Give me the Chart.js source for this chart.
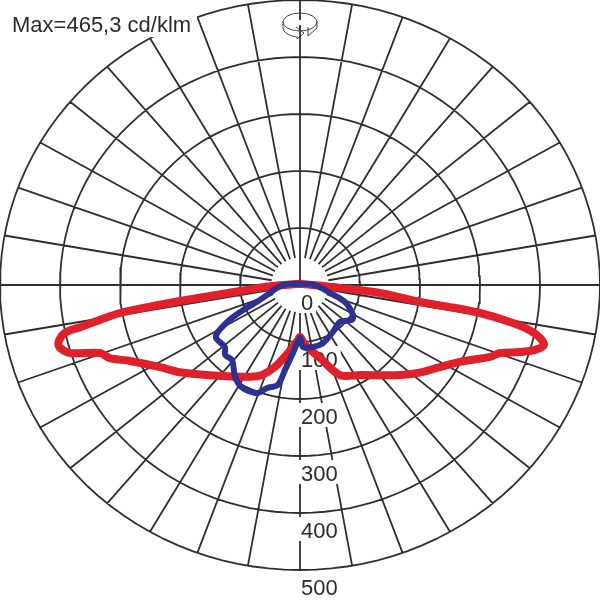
<!DOCTYPE html>
<html>
<head>
<meta charset="utf-8">
<title>Polar</title>
<script src="https://cdn.jsdelivr.net/npm/chart.js@4"></script>
<style>
body{margin:0;background:#fff;}
canvas{display:block;}
</style>
</head>
<body>
<canvas id="polar" width="600" height="600"></canvas>
<script>
//data (angle from straight down, cd/klm)
const ringValues = [100,200,300,400,500];
const tickLabels = ['0','100','200','300','400','500'];
const spokeAngles = [0,10,20,30,40,50,60,70,80,90,100,110,120,130,140,150,160,170,180,190,200,210,220,230,240,250,260,270,280,290,300,310,320,330,340,350];
const titleText = 'Max=465,3 cd/klm';

const redAngles = [180,-87.9,-84,-82.7,-82,-81.4,-80.7,-79.6,-78.6,-77.9,-76,-74.6,-72.7,-70.3,-68,-64.8,-58.3,-52.6,-43.5,-27.3,-21.8,-16.3,-9.5,-2,0,4.5,14.5,23,32.3,46.6,52.4,58.3,63.2,68.3,70.3,72.2,73.8,75.5,76.9,78.3,79.5,80.7,81.2,81.5,84,85.7,180];
const redValues = [2,46.7,100.6,151,202,253,304,339,374,401,415,415,401,354,342,313,274,252,218,181,170,150,121,97,91,105,132,172,187,230,252,274,299,341,354,385,408,420,411,391,356,304,253,202,134,67,2];

const blueAngles = [180,-94.6,-82.5,-74.4,-68,-65,-62.5,-58.9,-56.4,-48.9,-45.5,-40.6,-33.9,-28.4,-20.8,-16.9,-11.9,-9.5,-5.6,0,2.6,11.3,20.4,33.7,45.9,54.9,59.1,68.2,74.4,84,95.9,180];
const blueValues = [2,22,38.7,52,75,105,132,160,168,166,175,174,194,204,203,189,179,151,120,93,109,111,109,99,93,106,103,81,52,33,17,2];

const holeRadius = 48;

function toPoint(angle,value){
    const a = angle*Math.PI/180;
    return {x:value*Math.sin(a),y:-value*Math.cos(a)};
}
function curve(angles,values){
    return angles.map((a,i)=>toPoint(a,values[i]));
}

//rings and spokes go in one dataset, null points break the line
function gridPoints(){
    const pts = [];
    ringValues.forEach(r=>{
        for(let a=0;a<=360;a+=3){
            pts.push(toPoint(a,r));
        }
        pts.push({x:null,y:null});
    });
    spokeAngles.forEach(a=>{
        //the upper half of the cross runs right into the centre
        const start = (a===90 || a===180 || a===270) ? 0 : holeRadius;
        pts.push(toPoint(a,start));
        pts.push(toPoint(a,500));
        pts.push({x:null,y:null});
    });
    return pts;
}

function drawIcon(ctx,cx){
    ctx.save();
    ctx.strokeStyle = '#444';
    ctx.lineWidth = 1;
    ctx.fillStyle = '#fff';
    //white band that hides the axis behind the ribbon
    ctx.fillRect(cx-6,20,12,5);
    ctx.beginPath();
    ctx.ellipse(cx,22,17,9,0,0,Math.PI*2);
    ctx.stroke();
    ctx.beginPath();
    ctx.moveTo(cx-17,22);
    ctx.lineTo(cx-17,28);
    ctx.ellipse(cx,28,17,9,0,Math.PI,Math.PI*0.58,true);
    ctx.stroke();
    ctx.beginPath();
    ctx.moveTo(cx+17,22);
    ctx.lineTo(cx+17,28);
    ctx.lineTo(cx+8,36);
    ctx.lineTo(cx+8,27);
    ctx.stroke();
    //arrow head
    ctx.beginPath();
    ctx.moveTo(cx-4,27);
    ctx.lineTo(cx+4,33);
    ctx.lineTo(cx-3,39);
    ctx.lineTo(cx-3,36);
    ctx.stroke();
    ctx.restore();
}

//labels sit over the grid but under the curves, so this runs right after the grid dataset
const labelPlugin = {
    id:'labelPlugin',
    afterDatasetDraw(chart,args){
        if(args.index !== 2) return;
        const ctx = chart.ctx;
        const xs = chart.scales.x, ys = chart.scales.y;
        const x0 = xs.getPixelForValue(0);
        ctx.save();
        ctx.font = '22px "Liberation Sans"';
        ctx.textBaseline = 'alphabetic';
        tickLabels.forEach(t=>{
            const y = ys.getPixelForValue(-Number(t));
            const w = ctx.measureText(t).width;
            ctx.fillStyle = '#fff';
            ctx.fillRect(x0-1,y+4,w+5,24);
            ctx.fillStyle = '#2b2b2b';
            ctx.fillText(t,x0+1,y+25);
        });
        ctx.fillStyle = '#fff';
        ctx.fillRect(0,0,197,37);
        ctx.fillStyle = '#2b2b2b';
        ctx.fillText(titleText,12,32);
        ctx.restore();
        drawIcon(ctx,x0);
    }
};

var chart = new Chart(document.getElementById('polar').getContext('2d'),{
    type:'scatter',
    data:{
        datasets:[
            {
                label:'C90-C270',
                data:curve(blueAngles,blueValues),
                showLine:true,
                borderColor:'#2e3192',
                borderWidth:6,
                tension:0.3,
                pointRadius:0,
                borderJoinStyle:'round',
                borderCapStyle:'round'
            },
            {
                label:'C0-C180',
                data:curve(redAngles,redValues),
                showLine:true,
                borderColor:'#e0202a',
                borderWidth:8,
                tension:0.3,
                pointRadius:0,
                borderJoinStyle:'round',
                borderCapStyle:'round'
            },
            {
                label:'grid',
                data:gridPoints(),
                showLine:true,
                borderColor:'#2f2f2f',
                borderWidth:1.8,
                pointRadius:0,
                spanGaps:false,
                clip:false
            }
        ]
    },
    options:{
        responsive:false,
        animation:false,
        layout:{padding:0},
        plugins:{legend:{display:false},tooltip:{enabled:false}},
        scales:{
            //60px per 100 across, 57px per 100 down, centre at 300,285
            x:{type:'linear',display:false,min:-500,max:500},
            y:{type:'linear',display:false,min:-552.63,max:500}
        }
    },
    plugins:[labelPlugin]
});
</script>
</body>
</html>
